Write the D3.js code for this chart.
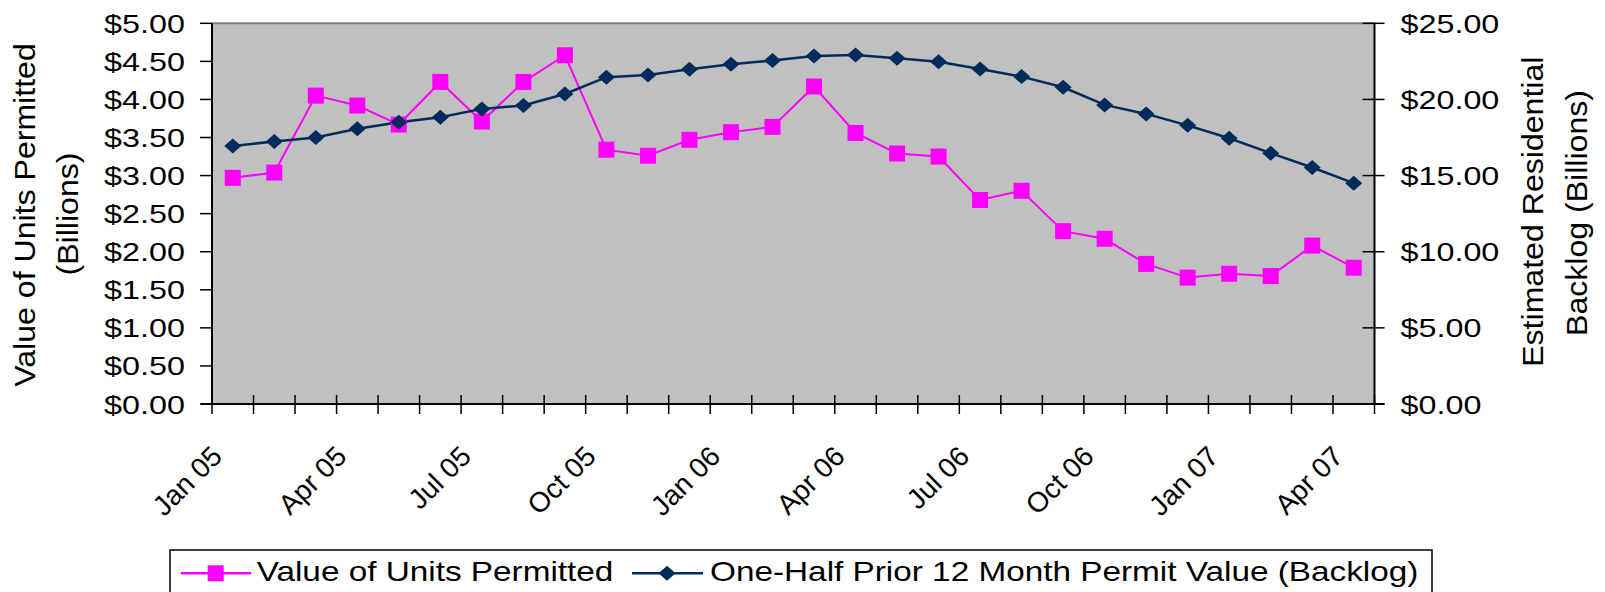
<!DOCTYPE html>
<html>
<head>
<meta charset="utf-8">
<script src="https://cdn.jsdelivr.net/npm/d3@7/dist/d3.min.js"></script>
<style>
  html, body { margin: 0; padding: 0; background: #ffffff; }
  svg { display: block; }
  text { font-family: "Liberation Sans", Arial, sans-serif; fill: #000; }
</style>
</head>
<body>
<svg id="chart" width="1605" height="592"></svg>
<script>
// ---------------- data ----------------
const months = ["Jan 05","Feb 05","Mar 05","Apr 05","May 05","Jun 05","Jul 05","Aug 05","Sep 05",
  "Oct 05","Nov 05","Dec 05","Jan 06","Feb 06","Mar 06","Apr 06","May 06","Jun 06","Jul 06",
  "Aug 06","Sep 06","Oct 06","Nov 06","Dec 06","Jan 07","Feb 07","Mar 07","Apr 07"];
const tickLabels = ["Jan 05","Apr 05","Jul 05","Oct 05","Jan 06","Apr 06","Jul 06","Oct 06","Jan 07","Apr 07"];
const permitted = [2.97, 3.04, 4.05, 3.92, 3.67, 4.23, 3.71, 4.23, 4.58, 3.34, 3.26, 3.47, 3.57, 3.64,
  4.17, 3.56, 3.29, 3.25, 2.68, 2.80, 2.27, 2.17, 1.84, 1.66, 1.71, 1.68, 2.08, 1.79];
const backlog = [16.95, 17.24, 17.50, 18.07, 18.50, 18.83, 19.38, 19.60, 20.36, 21.46, 21.61, 21.98,
  22.31, 22.55, 22.86, 22.92, 22.70, 22.48, 22.00, 21.50, 20.80, 19.64, 19.05, 18.30, 17.45, 16.47,
  15.53, 14.50];
const leftTicks = [0, 0.5, 1, 1.5, 2, 2.5, 3, 3.5, 4, 4.5, 5];
const rightTicks = [0, 5, 10, 15, 20, 25];
const seriesNames = ["Value of Units Permitted", "One-Half Prior 12 Month Permit Value (Backlog)"];
const leftTitle = ["Value of Units Permitted", "(Billions)"];
const rightTitle = ["Estimated Residential", "Backlog (Billions)"];

// ---------------- layout ----------------
const L = 212, R = 1374.5, T = 23.3, B = 404;
const MAGENTA = "#FF00FF", NAVY = "#002B5C";
const svg = d3.select("#chart");

const x = d3.scaleBand().domain(months).range([L, R]).paddingInner(0).paddingOuter(0);
const yL = d3.scaleLinear().domain([0, 5]).range([B, T]);
const yR = d3.scaleLinear().domain([0, 25]).range([B, T]);
const fmt = d3.format("$.2f");

// plot background
svg.append("rect").attr("x", L).attr("y", T).attr("width", R - L).attr("height", B - T)
  .attr("fill", "#C0C0C0");
svg.append("line").attr("x1", L).attr("x2", R).attr("y1", T).attr("y2", T)
  .attr("stroke", "#808080").attr("stroke-width", 2);

// left axis
const gl = svg.append("g");
gl.append("line").attr("x1", L).attr("x2", L).attr("y1", T).attr("y2", B)
  .attr("stroke", "#000").attr("stroke-width", 2);
gl.selectAll("line.t").data(leftTicks).join("line").attr("class", "t")
  .attr("x1", L - 12).attr("x2", L).attr("y1", d => yL(d)).attr("y2", d => yL(d))
  .attr("stroke", "#000").attr("stroke-width", 1.5);
gl.selectAll("text").data(leftTicks).join("text")
  .attr("text-anchor", "end").attr("font-size", 26.5)
  .attr("transform", d => `translate(185,${yL(d) + 9.5}) scale(1.22,1)`)
  .text(d => fmt(d));

// right axis
const gr = svg.append("g");
gr.append("line").attr("x1", R).attr("x2", R).attr("y1", T).attr("y2", B)
  .attr("stroke", "#000").attr("stroke-width", 2);
gr.selectAll("line.t").data(rightTicks).join("line").attr("class", "t")
  .attr("x1", R - 12).attr("x2", R + 10).attr("y1", d => yR(d)).attr("y2", d => yR(d))
  .attr("stroke", "#000").attr("stroke-width", 1.5);
gr.selectAll("text").data(rightTicks).join("text")
  .attr("text-anchor", "start").attr("font-size", 26.5)
  .attr("transform", d => `translate(1400.5,${yR(d) + 9.5}) scale(1.22,1)`)
  .text(d => fmt(d));

// bottom axis
const gb = svg.append("g");
gb.append("line").attr("x1", L - 11).attr("x2", R + 10).attr("y1", B).attr("y2", B)
  .attr("stroke", "#000").attr("stroke-width", 2);
const edges = months.map(m => x(m)).concat([R]);
gb.selectAll("line.t").data(edges).join("line").attr("class", "t")
  .attr("x1", d => d).attr("x2", d => d).attr("y1", B - 9).attr("y2", B + 10)
  .attr("stroke", "#000").attr("stroke-width", 1.5);
gb.selectAll("text").data(tickLabels).join("text")
  .attr("text-anchor", "end").attr("font-size", 28)
  .attr("transform", d => `translate(${x(d) + x.bandwidth() / 2 - 9},${B + 54}) rotate(-45)`)
  .text(d => d);

// axis titles
leftTitle.forEach((t, i) => {
  svg.append("text").attr("text-anchor", "middle").attr("font-size", 30)
    .attr("transform", `translate(${35 + i * 43.3},${215 - i}) rotate(-90) scale(1.07,1)`)
    .text(t);
});
rightTitle.forEach((t, i) => {
  svg.append("text").attr("text-anchor", "middle").attr("font-size", 30)
    .attr("transform", `translate(${1543 + i * 44},${211.7 + i * 1.3}) rotate(-90) scale(1.07,1)`)
    .text(t);
});

// series
const cx = d => x(d) + x.bandwidth() / 2;
const lineL = d3.line().x((d, i) => cx(months[i])).y(d => yL(d));
const lineR = d3.line().x((d, i) => cx(months[i])).y(d => yR(d));
const diamond = (w, h) => `M0,${-h}L${w},0L0,${h}L${-w},0Z`;

svg.append("path").datum(permitted).attr("d", lineL)
  .attr("fill", "none").attr("stroke", MAGENTA).attr("stroke-width", 2);
svg.append("path").datum(backlog).attr("d", lineR)
  .attr("fill", "none").attr("stroke", NAVY).attr("stroke-width", 2.5);

svg.append("g").selectAll("rect").data(permitted).join("rect")
  .attr("x", (d, i) => cx(months[i]) - 8).attr("y", d => yL(d) - 8)
  .attr("width", 16).attr("height", 16).attr("fill", MAGENTA);
svg.append("g").selectAll("path").data(backlog).join("path")
  .attr("transform", (d, i) => `translate(${cx(months[i])},${yR(d)})`)
  .attr("d", diamond(8.5, 7.5)).attr("fill", NAVY);

// legend
const lg = svg.append("g");
lg.append("rect").attr("x", 170).attr("y", 550).attr("width", 1262).attr("height", 60)
  .attr("fill", "#fff").attr("stroke", "#000").attr("stroke-width", 1.5);
const ly = 573.3;
lg.append("line").attr("x1", 181).attr("x2", 251).attr("y1", ly).attr("y2", ly)
  .attr("stroke", MAGENTA).attr("stroke-width", 2.5);
lg.append("rect").attr("x", 215.7 - 8).attr("y", ly - 8).attr("width", 16).attr("height", 16)
  .attr("fill", MAGENTA);
lg.append("text").attr("font-size", 28)
  .attr("transform", `translate(256.7,581) scale(1.19,1)`).text(seriesNames[0]);
lg.append("line").attr("x1", 632).attr("x2", 703).attr("y1", ly).attr("y2", ly)
  .attr("stroke", NAVY).attr("stroke-width", 2.5);
lg.append("path").attr("transform", `translate(667,${ly})`).attr("d", diamond(8.5, 7.5))
  .attr("fill", NAVY);
lg.append("text").attr("font-size", 28)
  .attr("transform", `translate(710,581) scale(1.19,1)`).text(seriesNames[1]);
</script>
</body>
</html>
